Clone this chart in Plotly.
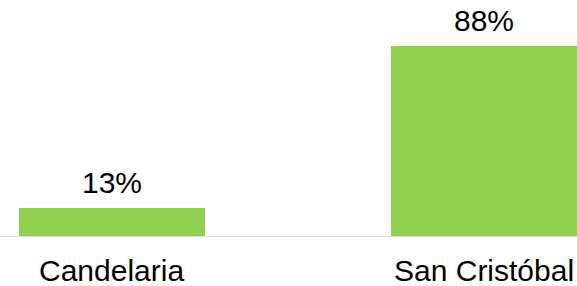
import plotly.graph_objects as go

categories = ["Candelaria", "San Cristóbal"]
values = [13, 88]
labels = ["13%", "88%"]

FONT = dict(family="Liberation Sans", size=30, color="#000000")

fig = go.Figure()
fig.add_trace(go.Bar(
    x=categories, y=values, width=0.5,
    marker=dict(color="#92D050", line=dict(width=0)),
    hoverinfo="skip",
))
for c, v, t in zip(categories, values, labels):
    fig.add_annotation(x=c, y=v, text=t, showarrow=False, yanchor="middle",
                       yshift=25, font=FONT)
for c in categories:
    fig.add_annotation(x=c, y=0, yref="paper", text=c, showarrow=False,
                       yanchor="middle", yshift=-34, font=FONT)

fig.update_layout(
    width=577, height=286,
    margin=dict(l=0, r=0, t=0, b=50),
    paper_bgcolor="white", plot_bgcolor="white",
    showlegend=False,
    font=FONT,
    bargap=0,
)
fig.update_xaxes(range=[-0.301, 1.25], showgrid=False, zeroline=False,
                 showline=True, linecolor="#d9d9d9", linewidth=1,
                 ticks="", showticklabels=False, automargin=False)
fig.update_yaxes(range=[0, 109.3], visible=False, automargin=False)

fig.write_html("out.html", config={"displayModeBar": False},
               post_script="document.body.style.margin='0';document.body.style.overflow='hidden';")
